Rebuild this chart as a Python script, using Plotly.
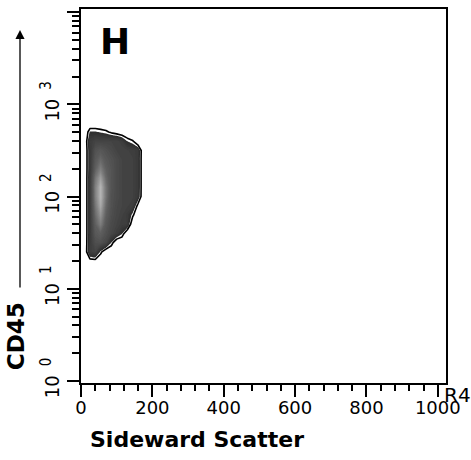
import math
import plotly.graph_objects as go

# Event density of the gated population (CD45 vs sideward scatter)
ssc_channels = [0, 10, 25, 40, 55, 70, 85, 100, 115, 130, 145, 160, 175, 190]
cd45_levels = [15.8, 20.0, 25.1, 31.6, 39.8, 50.1, 63.1, 79.4, 100, 126,
               158, 200, 251, 316, 398, 501, 631]
density = [
    [0, 0, 0.0, 0.0, 0.0, 0.0, 0.0, 0.0, 0.0, 0.0, 0.0, 0.0, 0, 0],
    [0, 0, 0.5, 0.6, 0.0, 0.0, 0.0, 0.0, 0.0, 0.0, 0.0, 0.0, 0, 0],
    [0, 0, 2.6, 3.0, 1.3, 0.0, 0.0, 0.0, 0.0, 0.0, 0.0, 0.0, 0, 0],
    [0, 0, 2.4, 3.8, 4.0, 3.3, 1.5, 0.0, 0.0, 0.0, 0.0, 0.0, 0, 0],
    [0, 0, 2.3, 4.5, 5.0, 4.0, 3.2, 2.6, 1.6, 0.0, 0.0, 0.0, 0, 0],
    [0, 0, 2.3, 5.0, 6.5, 4.5, 3.5, 3.0, 2.6, 2.5, 0.0, 0.0, 0, 0],
    [0, 0, 2.3, 5.5, 7.5, 5.0, 3.8, 3.2, 2.8, 2.4, 1.2, 0.0, 0, 0],
    [0, 0, 2.3, 6.0, 8.5, 5.5, 4.0, 3.3, 3.0, 2.8, 2.6, 0.6, 0, 0],
    [0, 0, 2.3, 6.5, 9.0, 6.0, 4.0, 3.5, 3.0, 3.0, 2.8, 2.2, 0, 0],
    [0, 0, 2.3, 6.5, 9.0, 6.0, 4.2, 3.5, 3.0, 3.0, 2.8, 2.3, 0, 0],
    [0, 0, 2.3, 6.0, 8.0, 5.5, 4.2, 3.5, 3.0, 3.0, 2.8, 2.3, 0, 0],
    [0, 0, 2.2, 5.0, 6.5, 5.0, 4.2, 3.5, 3.0, 3.0, 2.8, 2.3, 0, 0],
    [0, 0, 2.2, 4.5, 5.5, 4.5, 4.0, 3.5, 3.0, 3.0, 2.8, 2.3, 0, 0],
    [0, 0, 2.2, 4.0, 4.5, 4.0, 3.5, 3.0, 3.0, 2.8, 2.6, 2.4, 0, 0],
    [0, 0, 2.5, 3.0, 3.0, 3.0, 3.0, 3.0, 2.5, 1.5, 1.1, 0.0, 0, 0],
    [0, 0, 1.6, 1.6, 1.4, 1.2, 0.8, 0.5, 0.2, 0.0, 0.0, 0.0, 0, 0],
    [0, 0, 0.0, 0.0, 0.0, 0.0, 0.0, 0.0, 0.0, 0.0, 0.0, 0.0, 0, 0],
]

x_ticks = [0, 200, 400, 600, 800, 1000]
y_ticks = [1, 10, 100, 1000, 10000]
y_tick_text = ["10\u2002<sup><span style='font-size:15px'>%d</span></sup>" % k
               for k in range(5)]
gate_threshold = 1.0

# contour levels and a grey ramp keyed to density values
lv_start, lv_end, lv_size = 1.0, 9.5, 0.25
n_levels = math.floor((lv_end - lv_start) / lv_size) + 1
grey_stops = [(0.875, "#ffffff"), (1.5, "#ffffff"), (1.6, "#2f2f2f"),
              (3.0, "#444444"), (5.0, "#5f5f5f"), (7.0, "#8a8a8a"),
              (9.0, "#b8b8b8"), (9.625, "#c0c0c0")]


def frac(z):
    return ((z - lv_start) / lv_size + 0.5) / n_levels


grey_scale = [[min(max(frac(z), 0.0), 1.0), c] for z, c in grey_stops]

fig = go.Figure()
fig.add_trace(go.Contour(
    x=ssc_channels, y=cd45_levels, z=density,
    autocontour=False,
    contours=dict(start=lv_start, end=lv_end, size=lv_size,
                  coloring="fill", showlines=False),
    colorscale=grey_scale, showscale=False,
    line=dict(width=0, smoothing=0),
    hoverinfo="skip",
))
fig.add_trace(go.Contour(
    x=ssc_channels, y=cd45_levels, z=density,
    autocontour=False,
    contours=dict(start=gate_threshold, end=gate_threshold, size=1,
                  coloring="none"),
    line=dict(color="black", width=1.6, smoothing=0),
    showscale=False, hoverinfo="skip",
))

tick_font = dict(family="DejaVu Sans", size=18, color="black")
fig.update_xaxes(
    range=[0, 1023], showline=True, linecolor="black", linewidth=2,
    mirror=True, showgrid=False, zeroline=False,
    tickvals=x_ticks, ticks="outside", ticklen=12, tickwidth=1.5,
    tickcolor="black", tickfont=tick_font, ticklabelstandoff=-5,
    minor=dict(dtick=40, tick0=0, ticks="outside", ticklen=6,
               tickwidth=1.5, tickcolor="black", showgrid=False),
)
fig.update_yaxes(
    type="log", range=[-0.022, 4.034], showline=True, linecolor="black",
    linewidth=2, mirror=True, showgrid=False, zeroline=False,
    tickvals=y_ticks, ticktext=y_tick_text, tickangle=-90,
    ticks="outside", ticklen=12, tickwidth=1.5, tickcolor="black",
    tickfont=dict(family="Liberation Sans Narrow, DejaVu Sans Condensed, sans-serif",
                  size=20, color="black"),
    minor=dict(tickvals=[m * 10 ** k for k in range(4) for m in range(2, 10)],
               ticks="outside", ticklen=7, tickwidth=1.5, tickcolor="black",
               showgrid=False),
)

L, R, T, B = 81, 25, 7, 77
W, H = 471, 460
pw, ph = W - L - R, H - T - B


def px(x):
    return (x - L) / pw


def py(y):
    return (H - B - y) / ph


bold = dict(family="DejaVu Sans", color="black")
fig.add_annotation(text="<b>H</b>", x=px(115), y=py(40), xref="paper",
                   yref="paper", showarrow=False, xanchor="center",
                   yanchor="middle", font=dict(size=36, **bold))
fig.add_annotation(text="<b>Sideward Scatter</b>", x=px(88), y=py(440),
                   xref="paper", yref="paper", showarrow=False,
                   xanchor="left", yanchor="middle", font=dict(size=22, **bold))
fig.add_annotation(text="<b>CD45</b>", x=px(16), y=py(336), xref="paper",
                   yref="paper", showarrow=False, textangle=-90,
                   xanchor="center", yanchor="middle", font=dict(size=23, **bold))
fig.add_annotation(text="R4", x=px(442), y=py(395), xref="paper",
                   yref="paper", showarrow=False, xanchor="left",
                   yanchor="middle",
                   font=dict(family="DejaVu Sans", size=20, color="black"))
fig.add_annotation(text="", x=px(20), y=py(28), xref="paper", yref="paper",
                   showarrow=True, ax=0, ay=259, arrowhead=2, arrowsize=1.4,
                   arrowwidth=1.3, arrowcolor="black")

fig.update_layout(
    width=W, height=H, autosize=False,
    margin=dict(l=L, r=R, t=T, b=B),
    paper_bgcolor="white", plot_bgcolor="white", showlegend=False,
)
fig.write_html("out.html")
